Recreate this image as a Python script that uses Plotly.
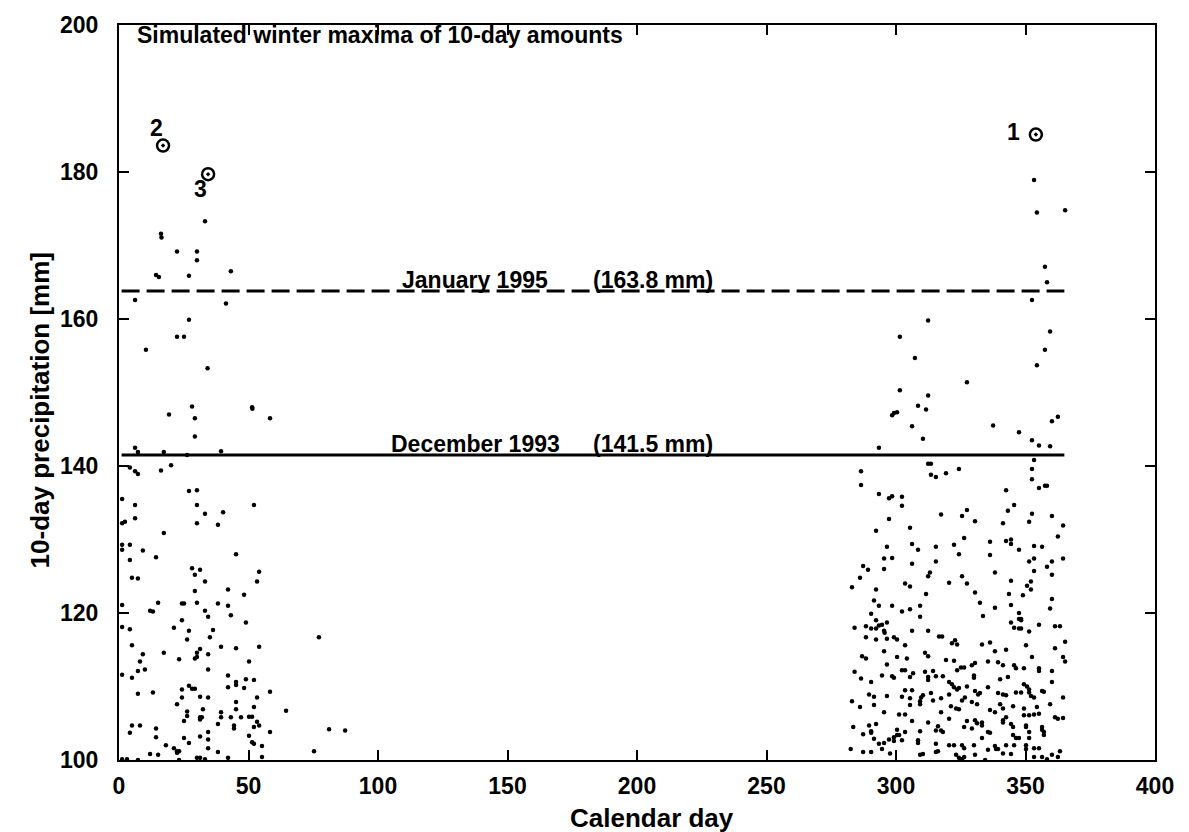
import plotly.graph_objects as go

left_pts = [(16.2,171.6),(16.4,171.1),(22.4,169.2),(30.1,169.2),(30.1,168.0),(33.2,173.3),(14.3,166.0),(15.4,165.7),(27.0,165.9),(43.2,166.5),(6.2,162.6),(41.3,162.1),(27.0,159.9),(22.4,157.6),(25.1,157.6),(10.4,155.8),(34.2,153.3),(28.2,148.1),(19.3,147.0),(29.3,146.5),(51.4,148.0),(51.5,147.8),(58.3,146.5),(29.3,144.0),(6.2,142.5),(7.3,141.9),(17.3,141.9),(26.3,141.5),(39.4,142.0),(4.2,139.8),(6.2,139.3),(7.3,138.9),(16.2,139.4),(20.1,140.1),(27.0,136.6),(30.1,136.7),(1.2,135.5),(6.2,134.7),(30.1,134.7),(52.1,134.7),(33.2,133.5),(40.2,133.7),(6.2,132.9),(1.2,132.2),(2.3,132.4),(30.1,132.2),(38.2,132.0),(17.3,130.9),(1.2,129.3),(1.2,128.6),(4.2,129.3),(9.2,128.5),(14.3,127.6),(45.2,128.0),(4.2,127.2),(28.2,126.1),(31.3,125.9),(29.3,125.2),(54.1,125.6),(5.0,124.8),(7.3,124.7),(33.2,124.3),(53.3,124.3),(29.3,123.0),(42.1,123.2),(48.3,122.5),(1.2,121.1),(15.1,121.4),(24.3,121.3),(25.1,121.3),(30.1,121.4),(38.2,121.3),(42.1,121.0),(12.0,120.3),(13.1,120.2),(33.2,120.3),(34.4,119.5),(43.2,119.7),(1.2,118.1),(4.2,117.8),(24.3,119.0),(21.2,118.0),(27.0,117.6),(49.0,118.7),(36.3,117.7),(35.1,116.7),(26.3,116.4),(5.0,115.6),(39.4,115.4),(45.2,115.2),(54.1,115.4),(9.2,114.4),(17.3,114.6),(31.3,115.1),(30.1,114.6),(29.3,113.8),(30.1,114.0),(34.4,114.4),(23.2,113.7),(50.2,113.4),(8.1,113.4),(7.3,112.1),(10.0,112.3),(34.4,112.3),(1.2,111.6),(5.0,111.2),(42.1,111.5),(49.0,111.0),(52.1,110.9),(27.0,110.1),(28.2,109.7),(29.3,109.7),(24.3,109.6),(45.2,110.6),(45.2,110.2),(42.1,109.9),(48.3,109.8),(7.3,109.0),(13.1,109.2),(24.3,108.5),(31.3,108.6),(34.4,108.5),(53.3,108.5),(58.3,109.3),(45.2,107.9),(22.4,107.6),(26.3,106.6),(32.4,106.9),(39.4,106.5),(45.2,106.9),(52.1,107.2),(64.5,106.7),(26.3,106.0),(25.1,105.3),(31.3,105.8),(32.0,105.8),(31.3,105.5),(39.4,105.8),(43.2,105.8),(47.1,105.8),(50.2,105.9),(51.4,105.9),(53.3,105.2),(38.2,104.9),(44.4,104.7),(44.4,104.3),(52.1,104.5),(54.1,104.7),(5.0,104.7),(8.1,104.7),(14.3,104.3),(4.2,103.7),(14.3,103.1),(25.1,103.0),(31.3,103.2),(34.4,103.8),(34.4,102.8),(50.2,103.3),(58.3,103.8),(27.0,102.3),(51.4,102.4),(52.1,102.2),(18.1,102.0),(34.4,101.6),(55.2,101.9),(21.2,101.6),(22.4,101.2),(23.2,101.2),(22.4,101.0),(12.0,100.8),(15.1,100.7),(38.2,101.1),(1.2,100.1),(3.1,100.1),(7.3,100.0),(23.2,100.0),(30.1,100.3),(31.3,100.3),(33.2,100.1),(42.1,100.3),(55.2,100.4),(81.1,104.2),(87.3,104.0),(75.3,101.2),(77.2,116.7)]

right_pts = [(353.3,178.9),(354.4,174.5),(365.3,174.8),(357.5,167.1),(358.3,165.0),(352.5,162.6),(359.5,158.3),(357.5,155.8),
(312.4,159.8),(301.5,157.6),(354.4,153.7),(307.3,154.7),(327.4,151.4),(301.5,150.3),(312.4,149.6),(308.5,148.2),(311.6,147.7),(298.5,146.9),(299.2,147.2),(300.4,147.3),(306.2,145.4),(337.5,145.5),(360.2,146.1),(362.5,146.7),(310.4,143.7),(347.5,144.6),(352.5,143.5),(355.2,142.8),(359.5,142.7),(293.4,142.5),
(353.3,140.8),(312.4,140.3),(313.5,140.3),(352.5,139.6),(313.5,138.8),(315.4,138.5),(319.3,139.0),(324.3,139.6),(286.5,139.3),(286.5,137.4),(352.5,138.2),(355.2,137.0),(357.5,137.3),(358.3,137.3),(293.4,136.2),(297.3,135.6),(298.5,135.9),(302.3,135.8),(302.3,134.6),(342.5,136.7),(345.6,134.7),(343.2,133.9),(352.5,133.5),(360.2,133.2),(317.4,133.4),(325.5,133.2),(327.4,134.0),(297.3,132.8),(330.5,132.5),(341.3,132.2),(351.4,132.4),(305.4,131.6),(292.3,131.2),(362.5,130.4),(326.3,130.2),(364.5,131.9),(296.5,129.0),(306.2,129.4),(308.5,128.6),(315.4,129.0),(322.4,129.3),(336.3,129.7),(342.5,129.8),(344.4,130.0),(344.4,129.4),(353.3,129.1),(356.4,129.0),(324.3,128.0),(336.3,127.9),(347.5,128.6),(295.4,127.4),(298.5,127.5),(315.4,127.0),(306.2,126.7),(351.4,127.0),(353.3,127.4),(360.2,127.0),(358.3,126.3),(364.5,127.4),(287.3,126.4),(289.2,125.9),(295.4,126.0),
(286.1,124.8),(313.1,125.5),(312.4,125.0),(325.5,125.0),(327.4,124.0),(338.2,125.5),(344.4,124.4),(350.6,123.7),(352.1,124.3),(353.3,125.7),(360.2,125.2),(303.5,124.0),(305.4,123.6),(320.5,124.1),(330.5,122.8),(343.6,122.6),(349.0,122.4),(352.1,123.2),(292.3,123.2),(311.6,122.6),(291.5,121.7),(293.4,121.0),(298.5,121.0),(302.3,120.2),(305.4,120.5),(309.3,121.0),(309.3,119.5),(332.4,121.4),(333.6,119.6),(338.2,120.7),(344.4,121.1),(360.2,121.9),(359.5,120.6),(347.5,120.0),(347.5,119.2),(348.3,119.2),(348.3,119.0),(290.4,119.9),(292.3,119.0),(293.4,118.3),(294.6,118.4),(295.4,117.6),(295.6,117.3),(296.5,118.7),(290.4,117.9),(292.3,117.9),(288.4,118.2),(306.2,117.6),(312.4,117.6),(344.4,118.7),(345.6,118.0),(347.5,117.9),(348.3,117.9),(351.4,117.5),(355.2,118.4),(361.4,118.2),(363.3,118.2),(288.4,116.7),(292.3,116.4),(296.5,116.5),(300.4,116.4),(299.2,116.7),(316.6,116.8),(317.8,116.8),(322.8,116.3),(323.6,115.7),(321.6,115.9),(303.5,115.6),(336.3,116.0),(333.2,115.7),(338.2,114.8),(342.5,115.0),(350.2,115.6),(361.4,115.2),(365.3,116.1),(286.9,114.1),(288.4,113.8),(295.4,114.8),(300.4,114.0),(304.2,113.8),(311.2,114.6),(312.4,114.1),(319.3,113.6),(322.4,113.5),(330.5,113.2),(335.5,113.4),(339.4,113.3),(341.3,112.9),(345.6,112.9),(346.3,112.5),(349.4,112.5),(355.2,112.5),(355.2,112.1),(360.2,112.1),(352.5,114.0),(364.5,114.0),(365.3,113.4),(296.5,113.0),(302.3,112.2),(303.5,112.2),(306.6,111.8),(311.2,112.0),(314.3,112.1),(323.6,112.2),(325.1,112.6),(326.3,112.6),(329.3,112.9),(286.5,111.1),(290.4,110.6),(294.6,111.5),(298.5,111.4),(299.2,111.2),(305.4,111.3),(312.4,111.3),(312.4,110.9),(315.4,111.4),(318.1,111.4),(330.1,111.5),(330.1,111.2),(340.2,111.0),(343.2,111.3),(360.2,110.6),(364.5,108.5),
(289.6,108.9),(291.5,108.6),(296.5,108.7),(302.3,108.6),(305.4,108.4),(303.5,109.5),(306.2,109.5),(309.7,108.5),(310.4,108.8),(313.5,109.1),(317.4,108.4),(320.5,108.9),(320.5,110.6),(321.6,110.3),(323.6,109.6),(324.3,109.8),(322.4,109.9),(327.4,110.0),(326.6,108.5),(325.5,108.1),(330.5,109.4),(331.7,108.9),(332.4,109.1),(335.5,109.9),(339.4,109.1),(341.3,108.9),(342.5,108.8),(346.3,109.2),(348.3,109.2),(349.4,110.3),(350.6,110.0),(351.4,109.6),(351.4,109.2),(352.1,108.7),(353.3,108.5),(356.4,109.4),(357.1,109.3),(359.5,107.6),(286.1,107.2),(295.4,106.5),(301.2,106.2),(303.5,106.2),(305.4,107.5),(309.3,108.0),(309.3,107.6),(314.3,108.1),(317.4,106.5),(321.2,107.3),(323.2,107.0),(324.3,106.9),(329.3,107.9),(331.3,107.6),(336.3,106.8),(338.2,106.5),(340.2,107.6),(341.3,107.0),(345.2,107.3),(349.4,107.0),(349.4,106.1),(351.4,106.1),(353.3,106.2),(355.2,106.3),(354.4,107.2),(291.5,107.5),(361.4,105.8),(362.5,105.6),(364.5,105.7),
(289.6,104.7),(292.3,104.9),(290.4,103.9),(290.4,103.7),(300.4,104.1),(303.5,103.8),(306.2,105.3),(312.4,105.1),(316.2,104.6),(318.1,103.8),(315.4,104.0),(317.4,104.0),(320.5,105.6),(327.4,105.3),(326.3,104.5),(329.3,104.3),(330.5,105.4),(331.3,105.0),(333.2,105.1),(333.2,104.7),(335.5,103.8),(336.3,103.7),(342.5,105.8),(341.3,105.4),(341.3,105.1),(344.4,104.9),(345.2,104.5),(350.2,104.7),(350.2,104.5),(356.4,104.5),(356.4,104.1),(357.1,103.8),(357.1,103.4),(345.2,103.4),(346.3,103.0),(347.5,103.0),(351.4,103.8),(351.4,103.0),(287.3,103.5),(291.5,102.9),(297.3,102.8),(299.2,102.6),(299.2,103.1),(300.4,103.4),(301.2,103.4),(302.3,102.7),(308.5,102.7),(308.5,102.3),(309.3,103.9),(315.4,102.2),(320.5,102.0),(322.4,102.0),(325.5,102.0),(326.3,101.6),(330.1,102.0),(333.2,103.0),(338.2,101.9),(339.4,101.5),(342.5,102.0),(345.6,102.0),(350.2,102.0),(350.2,101.5),(353.3,101.6),(355.2,101.6),(293.4,102.2),(295.4,102.3),(290.4,101.1),(294.6,101.5),(297.7,100.9),(309.3,100.7),(310.4,100.8),(315.4,101.1),(316.2,101.2),(323.2,100.7),(324.3,100.3),(325.5,100.1),(326.3,100.4),(330.5,100.7),(334.4,100.0),(335.5,101.4),(338.6,101.5),(341.3,100.9),(344.4,100.8),(353.3,100.4),(356.4,100.4),(360.2,100.7),(358.3,100.1),(287.3,101.1),(325.0,100.0),(363.3,101.2),(362.5,100.4),
(283.0,108.0),(283.5,104.5),(284.0,112.0),(282.5,101.5),(284.0,118.0),(283.0,123.5)]

left_day = [p[0] for p in left_pts]
left_val = [p[1] for p in left_pts]
right_day = [p[0] for p in right_pts]
right_val = [p[1] for p in right_pts]

top_day = [354.0, 17.0, 34.4]
top_val = [185.1, 183.6, 179.7]
top_rank = ["1", "2", "3"]
rank_pos = [(345.2, 185.4), (14.3, 186.0), (31.3, 177.7)]

ref_events = ["January 1995", "December 1993"]
ref_values = [163.8, 141.5]
ref_days = [1, 365]

FONT = "Liberation Sans, Arial, sans-serif"
FS = 23
FT = 26

fig = go.Figure()
fig.add_trace(go.Scatter(x=left_day + right_day, y=left_val + right_val, mode="markers",
                         marker=dict(size=4.5, color="black"), showlegend=False, hoverinfo="skip"))
fig.add_trace(go.Scatter(x=top_day, y=top_val, mode="markers",
                         marker=dict(size=12, symbol="circle-open-dot", color="black", line=dict(width=2.5, color="black")),
                         showlegend=False))
fig.add_trace(go.Scatter(x=ref_days, y=[ref_values[0]] * 2, mode="lines",
                         line=dict(color="black", width=3, dash="18px,7px"), showlegend=False))
fig.add_trace(go.Scatter(x=ref_days, y=[ref_values[1]] * 2, mode="lines",
                         line=dict(color="black", width=3), showlegend=False))

for lab, (xx, yy) in zip(top_rank, rank_pos):
    fig.add_annotation(x=xx, y=yy, text="<b>%s</b>" % lab, showarrow=False,
                       font=dict(family=FONT, size=FS, color="black"))

for name, val in zip(ref_events, ref_values):
    fig.add_annotation(x=137.5, y=val, text="<b>%s</b>" % name, showarrow=False, yanchor="bottom",
                       yshift=-4, font=dict(family=FONT, size=FS, color="black"))
    fig.add_annotation(x=206.2, y=val, text="<b>(%.1f mm)</b>" % val, showarrow=False, yanchor="bottom",
                       yshift=-4, font=dict(family=FONT, size=FS, color="black"))

fig.add_annotation(x=6.3, y=198.6, xanchor="left", text="<b>Simulated winter maxima of 10-day amounts</b>",
                   showarrow=False, font=dict(family=FONT, size=FS, color="black"))

# axis titles
fig.add_annotation(xref="paper", yref="paper", x=0.5145, y=-0.0786, xanchor="center", yanchor="middle",
                   text="<b>Calendar day</b>", showarrow=False, font=dict(family=FONT, size=FT, color="black"))
fig.add_annotation(xref="paper", yref="paper", x=-0.0763, y=0.4756, xanchor="center", yanchor="middle",
                   textangle=-90, text="<b>10-day precipitation [mm]</b>", showarrow=False,
                   font=dict(family=FONT, size=FT, color="black"))

axis_common = dict(showgrid=False, zeroline=False, showline=True, linecolor="black", linewidth=2,
                   mirror="ticks", ticks="inside", ticklen=10, tickwidth=1.5, tickcolor="black",
                   tickfont=dict(family=FONT, size=FS, color="black", weight="bold"))

fig.update_xaxes(range=[0, 400], tickvals=[0, 50, 100, 150, 200, 250, 300, 350, 400],
                 ticklabelstandoff=4, **axis_common)
fig.update_yaxes(range=[100, 200], tickvals=[100, 120, 140, 160, 180, 200],
                 ticklabelstandoff=14, **axis_common)

fig.update_layout(width=1189, height=832, plot_bgcolor="white", paper_bgcolor="white",
                  margin=dict(l=119, r=34, t=22, b=72), showlegend=False)

fig.write_html("out.html")
